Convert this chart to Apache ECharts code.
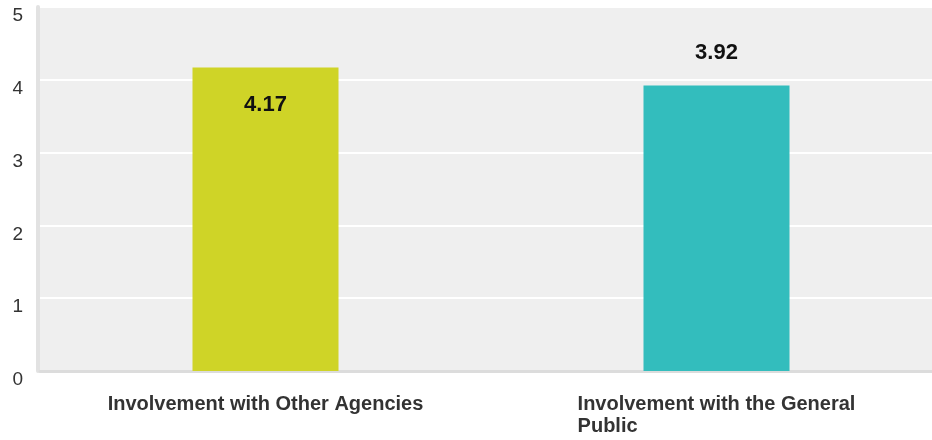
<!DOCTYPE html>
<html>
<head>
<meta charset="utf-8">
<script src="https://cdn.jsdelivr.net/npm/echarts@6/dist/echarts.min.js"></script>
<style>
  html, body { margin: 0; padding: 0; background: #ffffff; overflow: hidden; }
  /* the plot runs slightly past the right edge of the page */
  #chart { width: 942px; height: 440px; }
</style>
</head>
<body>
<div id="chart"></div>
<script>
// Mean involvement scores
const categories = ['Involvement with Other Agencies', 'Involvement with the General Public'];
const scores = [4.17, 3.92];
const barColors = ['#cfd427', '#33bdbd'];
// Value label placement per bar: inside the top of the first, above the second
const labelPositions = ['insideTop', 'top'];
const labelDistances = [27, 22];
const yTicks = [0, 1, 2, 3, 4, 5];

const chart = echarts.init(document.getElementById('chart'), null, { renderer: 'canvas' });

chart.setOption({
  animation: false,
  grid: {
    left: 40, right: 0, top: 7, bottom: 69,
    show: true, backgroundColor: '#efefef', borderWidth: 0
  },
  xAxis: {
    type: 'category',
    data: categories,
    axisLine: { show: true, lineStyle: { color: '#dcdcdc', width: 3 } },
    axisTick: { show: false },
    axisLabel: {
      interval: 0,
      margin: 22,
      formatter: function (v) {
        // wrap long names by hand so each line stays left-aligned in its block
        const lines = v === 'Involvement with the General Public'
          ? ['Involvement with the General', 'Public'] : [v];
        return lines.map(function (l) { return '{c|' + l + '}'; }).join('\n');
      },
      rich: {
        c: {
          align: 'left',
          fontFamily: 'Liberation Sans, Arial, sans-serif',
          fontWeight: 'bold',
          fontSize: 20,
          lineHeight: 22,
          color: '#333333'
        }
      }
    }
  },
  yAxis: {
    type: 'value',
    min: 0, max: 5, interval: 1,
    offset: 2,
    axisLine: { show: true, lineStyle: { color: '#e2e2e2', width: 4 } },
    axisTick: { show: false },
    splitLine: { show: true, lineStyle: { color: '#ffffff', width: 2 } },
    axisLabel: {
      margin: 15,
      fontFamily: 'Liberation Sans, Arial, sans-serif',
      fontSize: 19,
      color: '#333333',
      verticalAlign: 'top',
      lineHeight: 18,
      formatter: function (v) { return yTicks.indexOf(v) >= 0 ? String(v) : ''; }
    }
  },
  series: [{
    type: 'bar',
    barWidth: 146,
    data: scores.map(function (v, i) {
      return {
        value: v,
        itemStyle: { color: barColors[i] },
        label: {
          show: true,
          position: labelPositions[i],
          distance: labelDistances[i],
          formatter: function (p) { return p.value.toFixed(2); },
          fontFamily: 'Liberation Sans, Arial, sans-serif',
          fontWeight: 'bold',
          fontSize: 22,
          color: '#111111'
        }
      };
    })
  }]
});
</script>
</body>
</html>
